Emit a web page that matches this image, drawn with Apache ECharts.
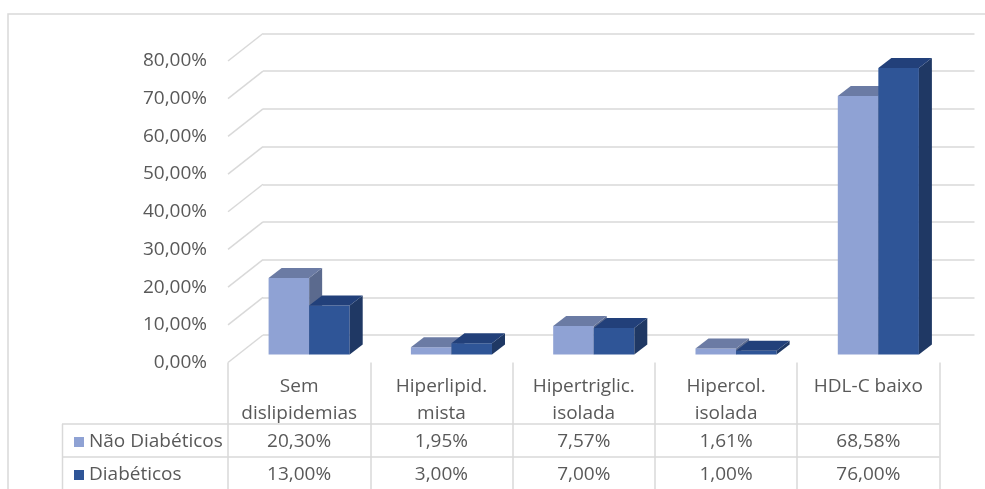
<!DOCTYPE html>
<html>
<head>
<meta charset="utf-8">
<script src="https://cdn.jsdelivr.net/npm/echarts@6/dist/echarts.min.js"></script>
<style>
  html, body { margin: 0; padding: 0; background: #ffffff; }
  #chart { width: 985px; height: 489px; }
</style>
</head>
<body>
<div id="chart"></div>
<script>
// Dyslipidemia prevalence, non-diabetic vs diabetic patients
const categories = ['Sem\ndislipidemias', 'Hiperlipid.\nmista', 'Hipertriglic.\nisolada', 'Hipercol.\nisolada', 'HDL-C baixo'];
const naoDiabeticos = [20.30, 1.95, 7.57, 1.61, 68.58];
const diabeticos = [13.00, 3.00, 7.00, 1.00, 76.00];
const seriesNames = ['Não Diabéticos', 'Diabéticos'];
const gridTicks = [0, 10, 20, 30, 40, 50, 60, 70, 80];

const FONT = '"Open Sans", sans-serif';
const TEXT = '#595959';
const LINE = '#D9D9D9';
const fmtPct = v => v.toFixed(2).replace('.', ',') + '%';

// perspective offsets: front plane -> back wall, floor inset of the boxes, box depth
const WALL_DX = 35, WALL_DY = -27.5;
const FLOOR_DX = 10, FLOOR_DY = -8;
const BOX_DX = 13, BOX_DY = -10;
const BAR_FRACTION = 0.285;

const palettes = [
  { front: '#8FA2D4', top: '#6B7BA4', side: '#5B6A8E' },
  { front: '#2F5597', top: '#22407A', side: '#1F3864' }
];

function boxRenderer(si) {
  return function (params, api) {
    const ci = api.value(0);
    const v = api.value(1);
    const base = api.coord([ci, 0]);
    const top = api.coord([ci, v]);
    const w = api.size([1, 0])[0] * BAR_FRACTION;
    const x0 = base[0] + FLOOR_DX + (si === 0 ? -w : 0);
    const x1 = x0 + w;
    const yb = base[1] + FLOOR_DY;
    const yt = top[1] + FLOOR_DY;
    const p = palettes[si];
    return {
      type: 'group',
      children: [
        { type: 'polygon', shape: { points: [[x0, yt], [x1, yt], [x1, yb], [x0, yb]] }, style: { fill: p.front } },
        { type: 'polygon', shape: { points: [[x1, yt], [x1 + BOX_DX, yt + BOX_DY], [x1 + BOX_DX, yb + BOX_DY], [x1, yb]] }, style: { fill: p.side } },
        { type: 'polygon', shape: { points: [[x0, yt], [x1, yt], [x1 + BOX_DX, yt + BOX_DY], [x0 + BOX_DX, yt + BOX_DY]] }, style: { fill: p.top } }
      ]
    };
  };
}

function valueRowAxis(values, offset) {
  return {
    gridIndex: 0,
    type: 'category',
    data: categories,
    position: 'bottom',
    offset: offset,
    axisLine: { show: false },
    axisTick: { show: false },
    splitLine: { show: false },
    axisLabel: {
      interval: 0,
      margin: 0,
      fontSize: 19,
      lineHeight: 24,
      fontFamily: FONT,
      color: TEXT,
      formatter: (val, idx) => fmtPct(values[idx])
    }
  };
}

const chart = echarts.init(document.getElementById('chart'), null, { renderer: 'canvas' });

chart.setOption({
  animation: false,
  backgroundColor: '#ffffff',
  textStyle: { fontFamily: FONT },
  grid: [
    { left: 228, top: 61, width: 711.5, height: 301.5 },
    { left: 263, top: 33.5, width: 711.5, height: 301.5 }
  ],
  xAxis: [
    {
      gridIndex: 0,
      type: 'category',
      data: categories,
      axisLine: { show: false },
      axisTick: { show: true, length: 128, lineStyle: { color: LINE, width: 1.5 } },
      splitLine: { show: false },
      axisLabel: {
        interval: 0,
        margin: 11,
        fontSize: 19,
        lineHeight: 27,
        fontFamily: FONT,
        color: TEXT
      }
    },
    valueRowAxis(naoDiabeticos, 67),
    valueRowAxis(diabeticos, 100),
    { gridIndex: 1, type: 'category', data: categories, show: false }
  ],
  yAxis: [
    {
      gridIndex: 0,
      type: 'value',
      min: 0,
      max: 80,
      interval: 10,
      axisLine: { show: false },
      axisTick: { show: false },
      splitLine: { show: false },
      axisLabel: {
        margin: 21,
        fontSize: 19,
        fontFamily: FONT,
        color: TEXT,
        padding: [7, 0, 0, 0],
        formatter: v => fmtPct(v)
      }
    },
    {
      gridIndex: 1,
      type: 'value',
      min: 0,
      max: 80,
      interval: 10,
      axisLine: { show: false },
      axisTick: { show: false },
      axisLabel: { show: false },
      splitLine: { show: true, lineStyle: { color: LINE, width: 1.5 } }
    }
  ],
  legend: {
    data: seriesNames,
    orient: 'vertical',
    left: 74,
    top: 430,
    padding: 0,
    itemWidth: 10,
    itemHeight: 10,
    itemGap: 9,
    icon: 'rect',
    selectedMode: false,
    textStyle: { fontSize: 19, lineHeight: 24, color: TEXT, fontFamily: FONT }
  },
  graphic: [
    { type: 'rect', shape: { x: 8, y: 14, width: 1000, height: 500 }, style: { fill: 'none', stroke: LINE, lineWidth: 1.5 }, silent: true },
    { type: 'line', shape: { x1: 62, y1: 424, x2: 939.5, y2: 424 }, style: { stroke: LINE, lineWidth: 1.5 }, silent: true },
    { type: 'line', shape: { x1: 62, y1: 457, x2: 939.5, y2: 457 }, style: { stroke: LINE, lineWidth: 1.5 }, silent: true },
    { type: 'line', shape: { x1: 62, y1: 490, x2: 939.5, y2: 490 }, style: { stroke: LINE, lineWidth: 1.5 }, silent: true },
    { type: 'line', shape: { x1: 62.5, y1: 424, x2: 62.5, y2: 489 }, style: { stroke: LINE, lineWidth: 1.5 }, silent: true }
  ],
  series: [
    {
      name: 'wall',
      type: 'custom',
      xAxisIndex: 0,
      yAxisIndex: 0,
      silent: true,
      z: 1,
      data: gridTicks.map(t => [0, t]),
      renderItem: function (params, api) {
        const y = api.coord([0, api.value(1)])[1];
        const x = params.coordSys.x;
        return {
          type: 'line',
          shape: { x1: x, y1: y, x2: x + WALL_DX, y2: y + WALL_DY },
          style: { stroke: LINE, lineWidth: 1.5 }
        };
      }
    },
    {
      name: seriesNames[0],
      type: 'custom',
      xAxisIndex: 0,
      yAxisIndex: 0,
      itemStyle: { color: palettes[0].front },
      data: naoDiabeticos.map((v, i) => [i, v]),
      renderItem: boxRenderer(0)
    },
    {
      name: seriesNames[1],
      type: 'custom',
      xAxisIndex: 0,
      yAxisIndex: 0,
      itemStyle: { color: palettes[1].front },
      data: diabeticos.map((v, i) => [i, v]),
      renderItem: boxRenderer(1)
    }
  ]
});
</script>
</body>
</html>
